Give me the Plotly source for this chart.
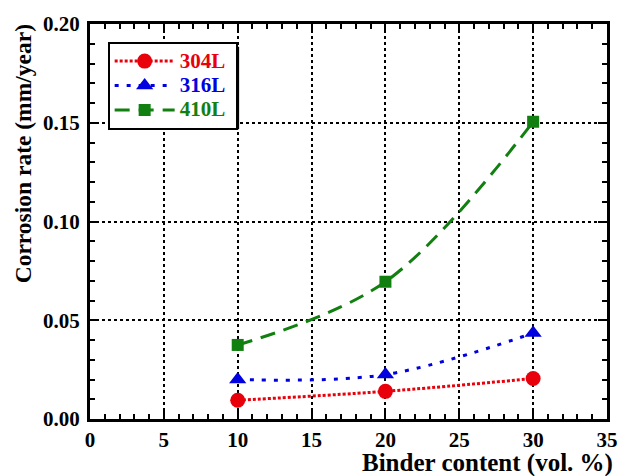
import plotly.graph_objects as go

binder = [10, 20, 30]
rate_304L = [0.0095, 0.0140, 0.0205]
rate_316L = [0.0200, 0.0225, 0.0435]
rate_410L = [0.0375, 0.0695, 0.1505]

series = [
    ("304L", rate_304L, "#e8000b", "circle", 15, "3px,2px"),
    ("316L", rate_316L, "#0000e0", "triangle-up", 15, "4px,8px"),
    ("410L", rate_410L, "#118011", "square", 12, "15px,9px"),
]

fig = go.Figure()
for name, vals, col, sym, sz, dash in series:
    fig.add_trace(go.Scatter(
        x=binder, y=vals, mode="lines+markers",
        name=f"<span style='color:{col};font-size:21px'>{name}\u00a0</span>",
        line=dict(color=col, width=3, dash=dash, shape="spline", smoothing=1.0),
        marker=dict(color=col, symbol=sym, size=sz),
    ))

font = "Liberation Serif"
axis_common = dict(
    showline=True, linewidth=3, linecolor="black", mirror="ticks",
    ticks="inside", ticklen=9, tickwidth=2, tickcolor="black",
    showgrid=True, gridcolor="black", griddash="dot", gridwidth=1.5,
    zeroline=False,
    tickfont=dict(family=font, size=21, color="black", weight="bold"),
)

fig.update_xaxes(range=[0, 35], dtick=5, tick0=0,
                 minor=dict(dtick=1, ticks="inside", ticklen=5, tickwidth=1.5, tickcolor="black", showgrid=False),
                 **axis_common)
fig.update_yaxes(range=[0, 0.2], dtick=0.05, tick0=0, tickformat=".2f", ticklabelstandoff=3,
                 minor=dict(dtick=0.01, ticks="inside", ticklen=5, tickwidth=1.5, tickcolor="black", showgrid=False),
                 **axis_common)

L, R, T, B = 90, 13, 21, 57
PW, PH = 630 - L - R, 476 - T - B

def px(x):
    return (x - L) / PW

def py(y):
    return (476 - B - y) / PH

# legend shadow
fig.add_shape(type="rect", xref="paper", yref="paper",
              x0=px(113), x1=px(242), y0=py(127), y1=py(44),
              fillcolor="black", line=dict(width=0), layer="above")

fig.update_layout(
    width=630, height=476,
    margin=dict(l=L, r=R, t=T, b=B),
    paper_bgcolor="white", plot_bgcolor="white",
    showlegend=True,
    legend=dict(x=px(108), y=py(39), xanchor="left", yanchor="top",
                bgcolor="white", bordercolor="black", borderwidth=2,
                font=dict(family=font, size=16.5, weight="bold"),
                tracegroupgap=0, itemwidth=60),
    annotations=[
        dict(text="Corrosion rate (mm/year)", xref="paper", yref="paper",
             x=px(22), y=py(152), xanchor="center", yanchor="middle", textangle=-90,
             showarrow=False, font=dict(family=font, size=23.5, color="black", weight="bold")),
        dict(text="Binder content (vol. %)", xref="paper", yref="paper",
             x=px(625), y=py(447), xanchor="right", yanchor="top",
             showarrow=False, font=dict(family=font, size=25, color="black", weight="bold")),
    ],
)

fig.write_html("out.html")
